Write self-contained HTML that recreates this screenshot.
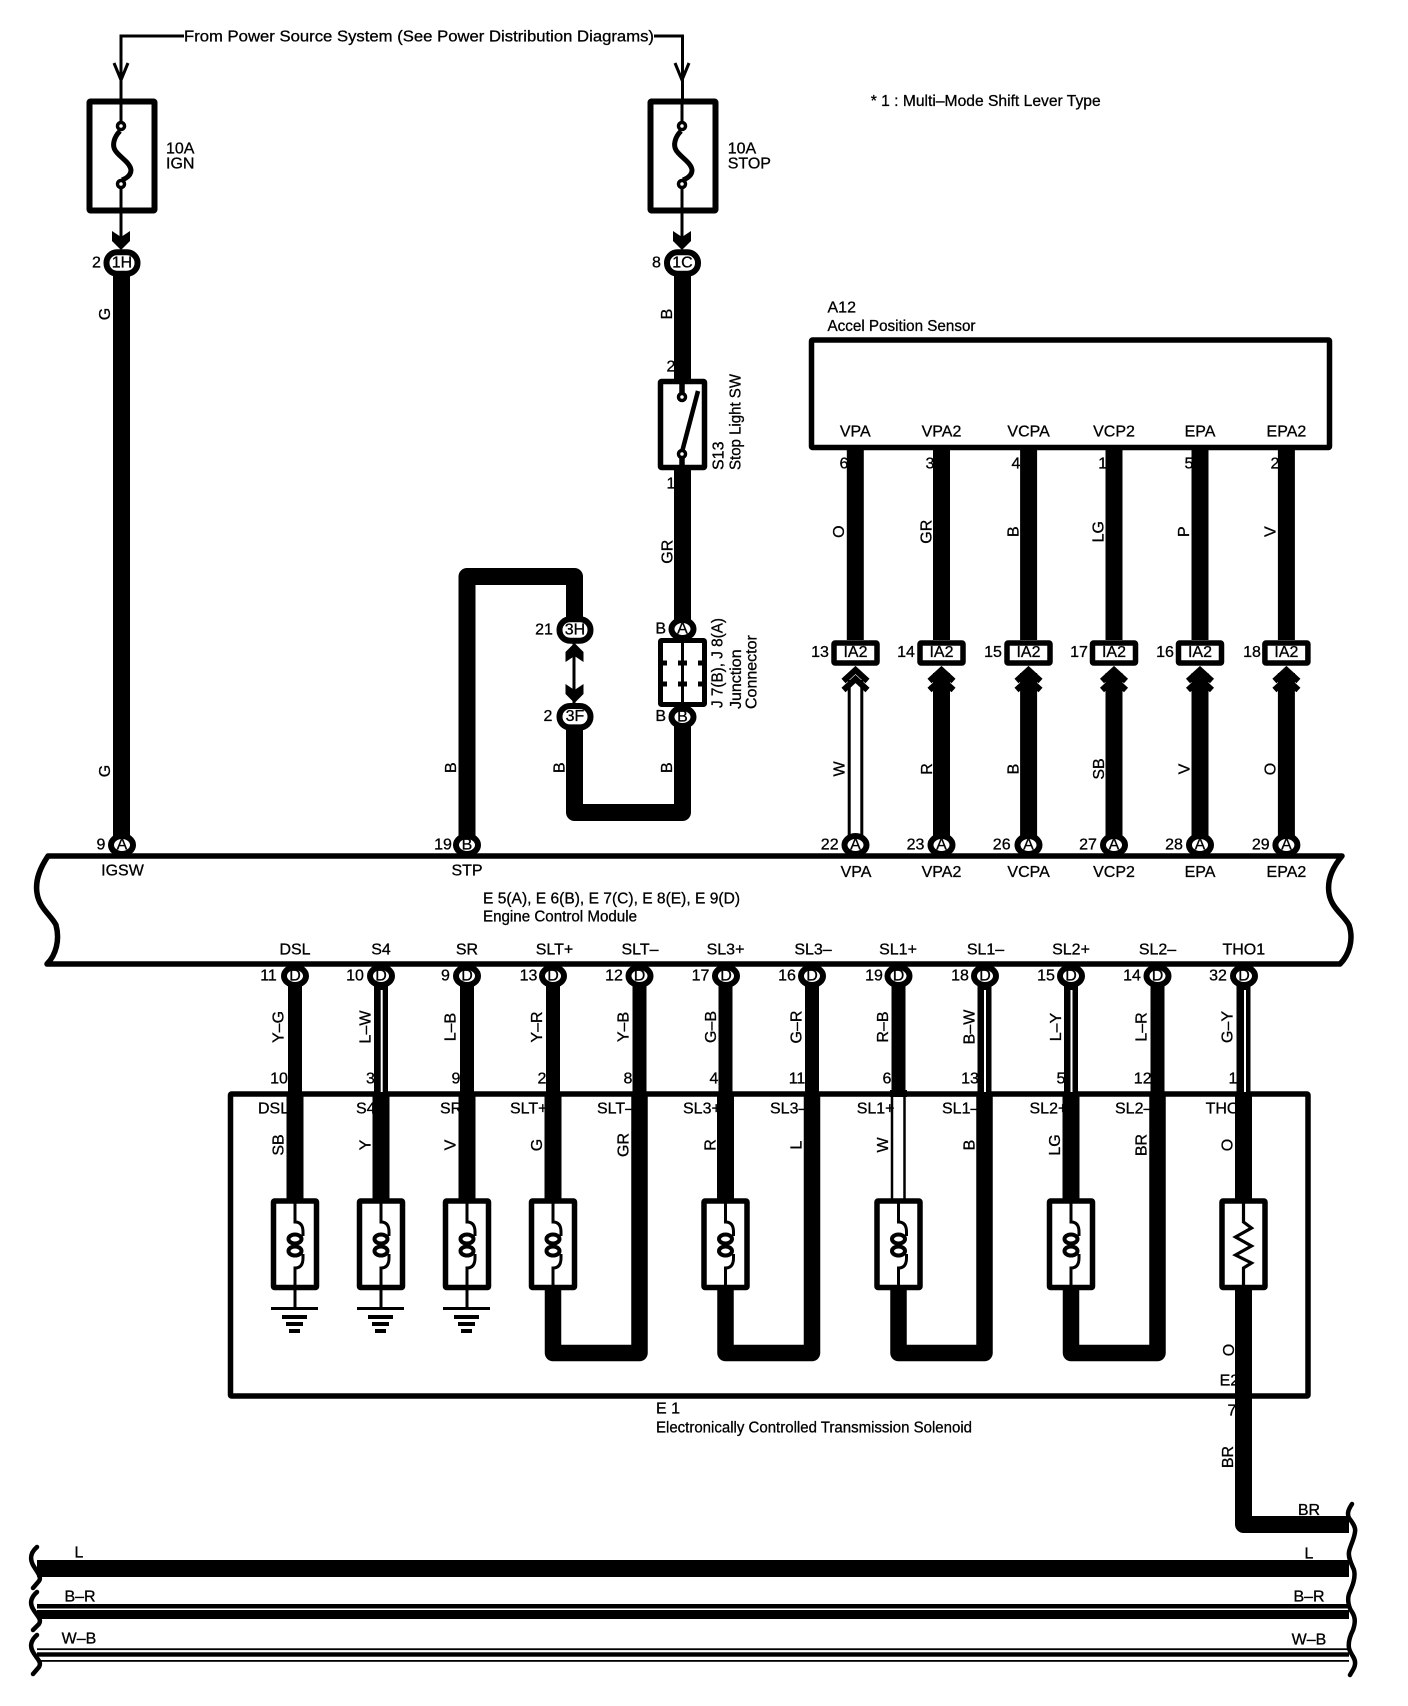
<!DOCTYPE html>
<html><head><meta charset="utf-8">
<style>
html,body{margin:0;padding:0;background:#fff}
svg{display:block}
text{font-family:"Liberation Sans",sans-serif;font-size:16px;fill:#000;text-anchor:middle;dominant-baseline:central;stroke:#000;stroke-width:.3}
text.l{text-anchor:start}
</style></head><body>
<svg width="1408" height="1706" viewBox="0 0 1408 1706" xmlns="http://www.w3.org/2000/svg">
<defs>
<g id="sol"><rect x="-21.5" y="1201" width="43" height="86.5" rx="1" fill="#fff" stroke="#000" stroke-width="5.5"/>
<path d="M0,1201V1222Q8,1222 8,1232V1236M8,1254V1258Q8,1268 0,1268V1288" fill="none" stroke="#000" stroke-width="3"/>
<ellipse cx="0" cy="1239" rx="6.5" ry="4.5" fill="#fff" stroke="#000" stroke-width="4"/>
<ellipse cx="0" cy="1251" rx="6.5" ry="4.5" fill="#fff" stroke="#000" stroke-width="4"/></g>
<g id="gnd"><path d="M0,1288V1308" stroke="#000" stroke-width="3"/><rect x="-24" y="1307" width="47" height="3"/><rect x="-13" y="1315" width="25" height="4"/><rect x="-9" y="1322" width="17" height="4"/><rect x="-6" y="1329" width="11" height="4"/></g>
<path id="chev" d="M-12,681L0,670L12,681M-12,690L0,679L12,690" fill="none" stroke="#000" stroke-width="6"/>
<g id="ia"><rect x="-21.5" y="643" width="43" height="20" rx="1" fill="#fff" stroke="#000" stroke-width="5.5"/></g>
<ellipse id="pin" cx="0" cy="0" rx="11" ry="9" fill="#fff" stroke="#000" stroke-width="6"/>
<rect id="pill" x="-15.5" y="-10.7" width="31" height="21.4" rx="10.5" fill="#fff" stroke="#000" stroke-width="6"/>
<path id="ahd" d="M-9,0V10L0,19L9,10V0L0,6Z"/>
<path id="ahu" d="M-9,0V-10L0,-19L9,-10V0L0,-6Z"/>
</defs>

<!-- top feed -->
<path d="M184,36H121V101M654,36H682.5V101" fill="none" stroke="#000" stroke-width="3"/>
<path d="M114,63L121,80L128,63M675,63L682,80L689,63" fill="none" stroke="#000" stroke-width="3"/>
<text class="l" x="184" y="37" textLength="470" lengthAdjust="spacingAndGlyphs">From Power Source System (See Power Distribution Diagrams)</text>
<text class="l" x="870.7" y="101.7" textLength="230" lengthAdjust="spacingAndGlyphs">* 1 : Multi–Mode Shift Lever Type</text>

<!-- fuses -->
<rect x="89.5" y="101.5" width="65" height="109" rx="1" fill="#fff" stroke="#000" stroke-width="6"/>
<rect x="650.5" y="101.5" width="65" height="109" rx="1" fill="#fff" stroke="#000" stroke-width="6"/>
<path d="M121,101V126M121,184V240M682,101V126M682,184V240" stroke="#000" stroke-width="3" fill="none"/>
<path d="M120,131C114,137 112,145 115,150C118,156 130,162 131,170C131,175 127,178 122,180" fill="none" stroke="#000" stroke-width="5"/>
<path d="M681,131C675,137 673,145 676,150C679,156 691,162 692,170C692,175 688,178 683,180" fill="none" stroke="#000" stroke-width="5"/>
<circle cx="121" cy="126" r="3.5" fill="#fff" stroke="#000" stroke-width="3.5"/><circle cx="121" cy="184" r="3.5" fill="#fff" stroke="#000" stroke-width="3.5"/>
<circle cx="682" cy="126" r="3.5" fill="#fff" stroke="#000" stroke-width="3.5"/><circle cx="682" cy="184" r="3.5" fill="#fff" stroke="#000" stroke-width="3.5"/>
<text class="l" x="166" y="149">10A</text><text class="l" x="166" y="164">IGN</text>
<text class="l" x="727.7" y="149">10A</text><text class="l" x="727.7" y="164">STOP</text>

<!-- left/stop wire labels -->
<text x="96.5" y="263">2</text><text x="656.5" y="263">8</text>
<text transform="translate(105.5,314) rotate(-90)">G</text>
<text transform="translate(105.5,771) rotate(-90)">G</text>
<text transform="translate(667.7,314) rotate(-90)">B</text>
<text x="671" y="367">2</text><text x="671" y="484">1</text>
<text transform="translate(668,551.7) rotate(-90)">GR</text>
<text class="l" transform="translate(719,470) rotate(-90)">S13</text>
<text class="l" transform="translate(736,470) rotate(-90)" textLength="96" lengthAdjust="spacingAndGlyphs">Stop Light SW</text>
<text class="l" transform="translate(718,708) rotate(-90)" textLength="90" lengthAdjust="spacingAndGlyphs">J 7(B), J 8(A)</text>
<text class="l" transform="translate(736.5,709) rotate(-90)">Junction</text>
<text class="l" transform="translate(752,709) rotate(-90)">Connector</text>
<text x="660.7" y="629">B</text><text x="660.7" y="716.7">B</text>
<text x="544" y="630">21</text><text x="548" y="716.7">2</text>
<text transform="translate(451.7,767.7) rotate(-90)">B</text>
<text transform="translate(560,767.7) rotate(-90)">B</text>
<text transform="translate(667.7,767.7) rotate(-90)">B</text>
<text transform="translate(840,769) rotate(-90)">W</text>
<text transform="translate(927.5,769) rotate(-90)">R</text>
<text transform="translate(1014,769) rotate(-90)">B</text>
<text transform="translate(1099.5,769) rotate(-90)">SB</text>
<text transform="translate(1185,769) rotate(-90)">V</text>
<text transform="translate(1271,769) rotate(-90)">O</text>

<path d="M121.5,263V845" stroke="#000" stroke-width="17"/>
<use href="#ahd" x="121" y="231"/>
<use href="#ahd" x="682" y="231"/>
<path d="M682.5,263V380M682.5,468V629M682.5,717V812.5H574.5V717" fill="none" stroke="#000" stroke-width="17" stroke-linejoin="round"/>
<path d="M467,845V576.5H574.5V630" fill="none" stroke="#000" stroke-width="17" stroke-linejoin="round"/>
<path d="M574,643V703" stroke="#000" stroke-width="3"/>
<use href="#ahu" x="574.5" y="662"/>
<use href="#ahd" x="574.5" y="684"/>

<!-- switch -->
<rect x="660.5" y="381.5" width="44" height="86" rx="1" fill="#fff" stroke="#000" stroke-width="5.5"/>
<path d="M682,380V397" stroke="#000" stroke-width="5.5"/>
<path d="M682,470V454" stroke="#000" stroke-width="5.5"/>
<path d="M682,452L698,391" stroke="#000" stroke-width="4.5"/>
<circle cx="682" cy="397" r="3.5" fill="#fff" stroke="#000" stroke-width="3.5"/>
<circle cx="682" cy="454" r="3.5" fill="#fff" stroke="#000" stroke-width="3.5"/>

<!-- junction -->
<rect x="660.5" y="640.5" width="44" height="64" rx="1" fill="#fff" stroke="#000" stroke-width="5"/>
<path d="M682.5,640V705" stroke="#000" stroke-width="3"/>
<path d="M661,663H667M661,684H667M698,663H704M698,684H704M678,663H687M678,684H687" stroke="#000" stroke-width="5"/>
<use href="#pin" x="682.5" y="629"/><text x="682.5" y="629">A</text>
<use href="#pin" x="682.5" y="717"/><text x="682.5" y="717">B</text>
<use href="#pill" x="575" y="630"/><text x="575" y="630">3H</text>
<use href="#pill" x="575" y="716.7"/><text x="575" y="716.7">3F</text>
<use href="#pill" x="122" y="263"/><text x="122" y="263">1H</text>
<use href="#pill" x="682.5" y="263"/><text x="682.5" y="263">1C</text>

<!-- A12 -->
<text class="l" x="827.5" y="308">A12</text>
<text class="l" x="827.5" y="326.7" textLength="148" lengthAdjust="spacingAndGlyphs">Accel Position Sensor</text>
<rect x="811.5" y="340" width="518" height="107.5" rx="1" fill="#fff" stroke="#000" stroke-width="5.5"/>
<text x="855.3" y="432">VPA</text><text x="941.5" y="432">VPA2</text><text x="1028.6" y="432">VCPA</text><text x="1114" y="432">VCP2</text><text x="1200" y="432">EPA</text><text x="1286.4" y="432">EPA2</text>
<text x="844" y="464">6</text><text x="930" y="464">3</text><text x="1016" y="464">4</text><text x="1102.7" y="464">1</text><text x="1189" y="464">5</text><text x="1275" y="464">2</text>
<text transform="translate(839.6,531.7) rotate(-90)">O</text>
<text transform="translate(927,531.7) rotate(-90)">GR</text>
<text transform="translate(1014,531.7) rotate(-90)">B</text>
<text transform="translate(1099,531.7) rotate(-90)">LG</text>
<text transform="translate(1184.5,531.7) rotate(-90)">P</text>
<text transform="translate(1271,531.7) rotate(-90)">V</text>
<path d="M855.3,447V640M941.5,447V640M1028.6,447V640M1114,447V640M1200,447V640M1286.4,447V640" stroke="#000" stroke-width="17"/>
<path d="M941.5,673V845M1028.6,673V845M1114,673V845M1200,673V845M1286.4,673V845" stroke="#000" stroke-width="17"/>
<path d="M849.2,680V840M861.8,680V840" stroke="#000" stroke-width="3" fill="none"/>
<use href="#ia" x="855.5"/><use href="#ia" x="941.5"/><use href="#ia" x="1028.5"/><use href="#ia" x="1114"/><use href="#ia" x="1200"/><use href="#ia" x="1286.4"/>
<text x="855.5" y="652.7">IA2</text><text x="941.5" y="652.7">IA2</text><text x="1028.5" y="652.7">IA2</text><text x="1114" y="652.7">IA2</text><text x="1200" y="652.7">IA2</text><text x="1286.4" y="652.7">IA2</text>
<text x="820" y="652.7">13</text><text x="906" y="652.7">14</text><text x="993" y="652.7">15</text><text x="1079" y="652.7">17</text><text x="1165" y="652.7">16</text><text x="1252" y="652.7">18</text>
<use href="#chev" x="855.5"/><use href="#chev" x="941.5"/><use href="#chev" x="1028.5"/><use href="#chev" x="1114"/><use href="#chev" x="1200"/><use href="#chev" x="1286.4"/>

<!-- ECM module -->
<path d="M48,856H1342C1332,868 1327,880 1329,893C1331,908 1344,915 1349,925C1354,940 1349,955 1340,964H47C56,955 60,940 56,925C51,915 39,908 37,893C35,880 40,868 48,856Z" fill="#fff" stroke="#000" stroke-width="5.5" stroke-linejoin="round"/>
<use href="#pin" x="122" y="845"/><text x="122" y="845">A</text>
<use href="#pin" x="467" y="845"/><text x="467" y="845">B</text>
<use href="#pin" x="855.5" y="845"/><text x="855.5" y="845">A</text>
<use href="#pin" x="941.5" y="845"/><text x="941.5" y="845">A</text>
<use href="#pin" x="1028.5" y="845"/><text x="1028.5" y="845">A</text>
<use href="#pin" x="1114" y="845"/><text x="1114" y="845">A</text>
<use href="#pin" x="1200" y="845"/><text x="1200" y="845">A</text>
<use href="#pin" x="1286.4" y="845"/><text x="1286.4" y="845">A</text>
<text x="101" y="845">9</text><text x="443" y="845">19</text><text x="829.7" y="845">22</text><text x="915.5" y="845">23</text><text x="1001.7" y="845">26</text><text x="1088" y="845">27</text><text x="1174" y="845">28</text><text x="1260.8" y="845">29</text>
<text x="122.5" y="871">IGSW</text><text x="467" y="871">STP</text>
<text x="856" y="872.7">VPA</text><text x="941.5" y="872.7">VPA2</text><text x="1028.6" y="872.7">VCPA</text><text x="1114" y="872.7">VCP2</text><text x="1200" y="872.7">EPA</text><text x="1286.4" y="872.7">EPA2</text>
<text class="l" x="483" y="899" textLength="257" lengthAdjust="spacingAndGlyphs">E 5(A), E 6(B), E 7(C), E 8(E), E 9(D)</text>
<text class="l" x="483" y="917" textLength="154" lengthAdjust="spacingAndGlyphs">Engine Control Module</text>
<text x="295" y="950">DSL</text><text x="381" y="950">S4</text><text x="467" y="950">SR</text><text x="554.5" y="950">SLT+</text><text x="640" y="950">SLT–</text><text x="725.5" y="950">SL3+</text><text x="813" y="950">SL3–</text><text x="898" y="950">SL1+</text><text x="985.5" y="950">SL1–</text><text x="1071" y="950">SL2+</text><text x="1157.5" y="950">SL2–</text><text x="1243.8" y="950">THO1</text>
<text x="268.5" y="976">11</text><text x="355" y="976">10</text><text x="445.5" y="976">9</text><text x="528.5" y="976">13</text><text x="614" y="976">12</text><text x="700.5" y="976">17</text><text x="787" y="976">16</text><text x="874" y="976">19</text><text x="960" y="976">18</text><text x="1046" y="976">15</text><text x="1132" y="976">14</text><text x="1218" y="976">32</text>

<!-- E1 box -->
<rect x="230.5" y="1094" width="1077.5" height="302" rx="1" fill="#fff" stroke="#000" stroke-width="5.5"/>
<text class="l" x="656" y="1409">E 1</text>
<text class="l" x="656" y="1428" textLength="316" lengthAdjust="spacingAndGlyphs">Electronically Controlled Transmission Solenoid</text>
<g>
<text transform="translate(279,1027) rotate(-90)">Y–G</text><text transform="translate(366,1027) rotate(-90)">L–W</text><text transform="translate(451,1027) rotate(-90)">L–B</text><text transform="translate(537.5,1027) rotate(-90)">Y–R</text><text transform="translate(624,1027) rotate(-90)">Y–B</text><text transform="translate(711.6,1027) rotate(-90)">G–B</text><text transform="translate(797,1027) rotate(-90)">G–R</text><text transform="translate(883.6,1027) rotate(-90)">R–B</text><text transform="translate(970,1027) rotate(-90)">B–W</text><text transform="translate(1056.5,1027) rotate(-90)">L–Y</text><text transform="translate(1142,1027) rotate(-90)">L–R</text><text transform="translate(1228,1027) rotate(-90)">G–Y</text>
<text x="279" y="1079">10</text><text x="370.5" y="1079">3</text><text x="456" y="1079">9</text><text x="542" y="1079">2</text><text x="628" y="1079">8</text><text x="714" y="1079">4</text><text x="797" y="1079">11</text><text x="887" y="1079">6</text><text x="970" y="1079">13</text><text x="1061" y="1079">5</text><text x="1142.7" y="1079">12</text><text x="1233" y="1079">1</text>
<text class="l" x="258" y="1109">DSL</text><text class="l" x="356" y="1109">S4</text><text class="l" x="440" y="1109">SR</text><text class="l" x="510" y="1109">SLT+</text><text class="l" x="597" y="1109">SLT–</text><text class="l" x="683" y="1109">SL3+</text><text class="l" x="770" y="1109">SL3–</text><text class="l" x="856.7" y="1109">SL1+</text><text class="l" x="942" y="1109">SL1–</text><text class="l" x="1029.5" y="1109">SL2+</text><text class="l" x="1115" y="1109">SL2–</text><text class="l" x="1205.6" y="1109">THO1</text>
<text transform="translate(279,1145) rotate(-90)">SB</text><text transform="translate(366,1145) rotate(-90)">Y</text><text transform="translate(451,1145) rotate(-90)">V</text><text transform="translate(537.5,1145) rotate(-90)">G</text><text transform="translate(624,1145) rotate(-90)">GR</text><text transform="translate(711,1145) rotate(-90)">R</text><text transform="translate(797,1145) rotate(-90)">L</text><text transform="translate(883.6,1145) rotate(-90)">W</text><text transform="translate(970,1145) rotate(-90)">B</text><text transform="translate(1055.6,1145) rotate(-90)">LG</text><text transform="translate(1142,1145) rotate(-90)">BR</text><text transform="translate(1228,1145) rotate(-90)">O</text>
<text transform="translate(1229.5,1350) rotate(-90)">O</text>
<text class="l" x="1219.6" y="1381">E2</text>
<text x="1232" y="1411">7</text>
<text transform="translate(1228.5,1457) rotate(-90)">BR</text>
</g>

<!-- wires above E1 -->
<path d="M295,976V1092M381,976V1092M467,976V1092M553,976V1092M639.5,976V1092M725.5,976V1092M812,976V1092M898.5,976V1092M984.5,976V1092M1071,976V1092M1157.5,976V1092M1243.5,976V1092" stroke="#000" stroke-width="14"/>
<path d="M381.7,990V1092M985,990V1092M1071.5,990V1092M1245,990V1092" stroke="#fff" stroke-width="2"/>
<!-- wires inside E1 -->
<path d="M295,1092V1205M381,1092V1205M467,1092V1205M553,1092V1205M725.5,1092V1205M1071,1092V1205M1243.5,1092V1205" stroke="#000" stroke-width="17"/>
<path d="M898.5,1090V1097" stroke="#000" stroke-width="17"/>
<path d="M892,1097V1205M904.5,1097V1205" stroke="#000" stroke-width="2.5" fill="none"/>
<path d="M553,1285V1353H639.5V1092M725.5,1285V1353H812V1092M898.5,1285V1353H984.5V1092M1071,1285V1353H1157.5V1092" fill="none" stroke="#000" stroke-width="16.5" stroke-linejoin="round"/>
<path d="M1243.5,1285V1524.5H1349" fill="none" stroke="#000" stroke-width="17" stroke-linejoin="round"/>
<!-- solenoids -->
<use href="#sol" x="295"/><use href="#sol" x="381"/><use href="#sol" x="467"/><use href="#sol" x="553"/><use href="#sol" x="725.5"/><use href="#sol" x="898.5"/><use href="#sol" x="1071"/>
<use href="#gnd" x="295"/><use href="#gnd" x="381"/><use href="#gnd" x="467"/>
<rect x="1222" y="1201" width="43" height="86.5" rx="1" fill="#fff" stroke="#000" stroke-width="5.5"/>
<path d="M1243.5,1201V1222L1251.5,1228L1235.5,1237L1251.5,1246L1235.5,1255L1251.5,1263L1243.5,1268V1288" fill="none" stroke="#000" stroke-width="3.2"/>
<!-- D pins -->
<use href="#pin" x="295" y="976"/><text x="295" y="976">D</text>
<use href="#pin" x="381" y="976"/><text x="381" y="976">D</text>
<use href="#pin" x="467" y="976"/><text x="467" y="976">D</text>
<use href="#pin" x="553" y="976"/><text x="553" y="976">D</text>
<use href="#pin" x="639.5" y="976"/><text x="639.5" y="976">D</text>
<use href="#pin" x="726" y="976"/><text x="726" y="976">D</text>
<use href="#pin" x="812" y="976"/><text x="812" y="976">D</text>
<use href="#pin" x="898.5" y="976"/><text x="898.5" y="976">D</text>
<use href="#pin" x="985" y="976"/><text x="985" y="976">D</text>
<use href="#pin" x="1071" y="976"/><text x="1071" y="976">D</text>
<use href="#pin" x="1157.5" y="976"/><text x="1157.5" y="976">D</text>
<use href="#pin" x="1244" y="976"/><text x="1244" y="976">D</text>

<!-- bottom bus -->
<rect x="37" y="1560" width="1312" height="17"/>
<rect x="37" y="1604" width="1312" height="15"/>
<rect x="37" y="1608.5" width="1312" height="1.5" fill="#fff"/>
<rect x="37" y="1648.3" width="1312" height="1.8"/>
<rect x="37" y="1652.3" width="1312" height="4.4"/>
<rect x="37" y="1660" width="1312" height="1.8"/>
<path d="M37,1547C30,1553 30,1559 33,1565C37,1572 42,1577 39,1581L33,1588M37,1592C30,1598 30,1604 33,1609C37,1616 42,1619 39,1624L33,1630M37,1635C30,1641 30,1647 33,1652C37,1659 42,1662 39,1667L33,1674" fill="none" stroke="#000" stroke-width="4.5" stroke-linecap="round"/>
<path d="M1352,1504C1348,1510 1347,1514 1349,1518C1352,1522 1356,1527 1355,1532C1354,1540 1350,1546 1349,1552C1348,1558 1352,1565 1354,1570C1356,1578 1352,1587 1349,1594C1347,1600 1349,1608 1352,1612C1356,1618 1355,1624 1353,1630C1350,1636 1348,1642 1349,1648C1350,1654 1356,1658 1355,1664C1355,1668 1352,1671 1350,1675" fill="none" stroke="#000" stroke-width="4.5" stroke-linecap="round"/>
<text x="79" y="1553">L</text><text x="80" y="1597">B–R</text><text x="79" y="1639">W–B</text>
<text x="1309" y="1510.7">BR</text><text x="1309" y="1554">L</text><text x="1309" y="1597">B–R</text><text x="1309" y="1640">W–B</text>
</svg>
</body></html>
